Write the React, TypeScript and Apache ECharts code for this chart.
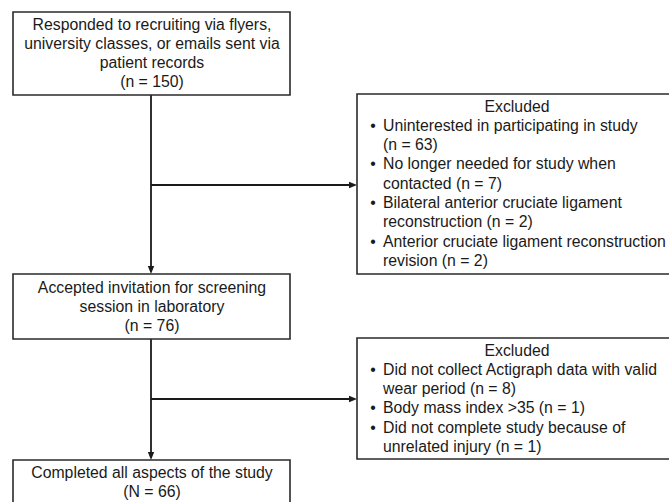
import React, { useEffect, useRef } from "react";
import * as echarts from "echarts";

const mainBox1Lines = [
  "Responded to recruiting via flyers,",
  "university classes, or emails sent via",
  "patient records",
  "(n = 150)",
];
const mainBox2Lines = ["Accepted invitation for screening", "session in laboratory", "(n = 76)"];
const mainBox3Lines = ["Completed all aspects of the study", "(N = 66)"];

const excludedTitle = "Excluded";
const excluded1Bullets = [
  ["Uninterested in participating in study", "(n = 63)"],
  ["No longer needed for study when", "contacted (n = 7)"],
  ["Bilateral anterior cruciate ligament", "reconstruction (n = 2)"],
  ["Anterior cruciate ligament reconstruction", "revision (n = 2)"],
];
const excluded2Bullets = [
  ["Did not collect Actigraph data with valid", "wear period (n = 8)"],
  ["Body mass index >35 (n = 1)"],
  ["Did not complete study because of", "unrelated injury (n = 1)"],
];

const FONT = "Liberation Sans, Arial, Helvetica, sans-serif";
const FS = 15.8;
const LH = 19.3;
const COLOR = "#1a1a1a";
const LW = 1.8;

function rect(x1: number, y1: number, x2: number, y2: number) {
  return {
    type: "rect",
    shape: { x: x1, y: y1, width: x2 - x1, height: y2 - y1 },
    style: { fill: "#fff", stroke: "#2a2a2a", lineWidth: 1.6 },
  };
}

function text(x: number, y: number, t: string, align: string = "center") {
  return {
    type: "text",
    x,
    y,
    style: {
      text: t,
      font: `${FS}px ${FONT}`,
      fill: COLOR,
      align,
      verticalAlign: "middle",
    },
  };
}

function centeredBox(x1: number, y1: number, x2: number, y2: number, lines: string[], firstY: number) {
  const els: any[] = [rect(x1, y1, x2, y2)];
  const cx = (x1 + x2) / 2 + 0.5;
  lines.forEach((l, i) => els.push(text(cx, firstY + i * LH, l)));
  return els;
}

function excludedBox(x1: number, y1: number, x2: number, y2: number, bullets: string[][], firstY: number) {
  const els: any[] = [rect(x1, y1, x2, y2)];
  const cx = (x1 + x2) / 2;
  els.push(text(cx, firstY, excludedTitle));
  let row = 1;
  bullets.forEach((b) => {
    els.push(text(x1 + 16, firstY + row * LH, "•", "center"));
    b.forEach((l) => {
      els.push(text(x1 + 26, firstY + row * LH, l, "left"));
      row++;
    });
  });
  return els;
}

function line(x1: number, y1: number, x2: number, y2: number) {
  return {
    type: "line",
    shape: { x1, y1, x2, y2 },
    style: { stroke: COLOR, lineWidth: LW },
  };
}

function arrowDown(x: number, y: number) {
  return {
    type: "polygon",
    shape: { points: [[x - 3.2, y - 8], [x + 3.2, y - 8], [x, y]] },
    style: { fill: COLOR },
  };
}
function arrowRight(x: number, y: number) {
  return {
    type: "polygon",
    shape: { points: [[x - 8, y - 3.2], [x - 8, y + 3.2], [x, y]] },
    style: { fill: COLOR },
  };
}

export default function App() {
  const ref = useRef<HTMLDivElement>(null);
  useEffect(() => {
    document.body.style.margin = "0";
    const chart = echarts.init(ref.current!, null, { renderer: "svg" });
    const cx = 151;
    const elements: any[] = [
      line(cx, 95, cx, 268),
      arrowDown(cx, 274),
      line(cx, 185, 351, 185),
      arrowRight(357, 185),
      line(cx, 339, cx, 454),
      arrowDown(cx, 460),
      line(cx, 399, 351, 399),
      arrowRight(357, 399),
      ...centeredBox(13, 12, 290, 95, mainBox1Lines, 24),
      ...centeredBox(13, 274, 290, 339, mainBox2Lines, 287),
      ...centeredBox(13, 460, 290, 512, mainBox3Lines, 472),
      ...excludedBox(357, 94, 677, 274, excluded1Bullets, 106),
      ...excludedBox(357, 338, 677, 459, excluded2Bullets, 350),
    ];
    chart.setOption({
      animation: false,
      backgroundColor: "#fff",
      graphic: { elements },
    });
    return () => chart.dispose();
  }, []);
  return <div ref={ref} style={{ width: 669, height: 502 }} />;
}
